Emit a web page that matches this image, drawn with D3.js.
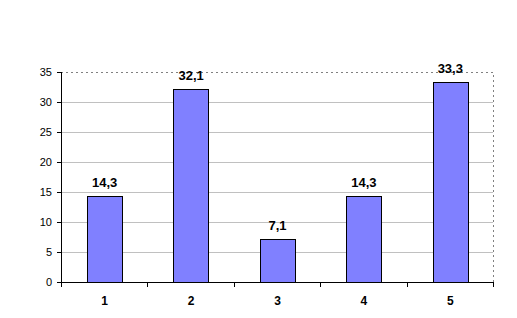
<!DOCTYPE html>
<html><head><meta charset="utf-8">
<script src="https://cdn.jsdelivr.net/npm/d3@7"></script>
<style>body{margin:0;background:#fff}svg{display:block}text{font-family:"Liberation Sans",Arial,sans-serif}</style>
</head><body>
<script>
const categories = ["1","2","3","4","5"];
const values = [14.3, 32.1, 7.1, 14.3, 33.3];
const valueLabels = ["14,3","32,1","7,1","14,3","33,3"];
const yTicks = [0,5,10,15,20,25,30,35];

const W=517,H=318;
const m={left:61,right:24,top:72,bottom:36};
const svg=d3.select("body").append("svg").attr("width",W).attr("height",H);
const x=d3.scaleBand().domain(categories).range([m.left,W-m.right]).paddingInner(0.6).paddingOuter(0.3);
const xb=d3.scaleBand().domain(categories).range([m.left,W-m.right]);
const y=d3.scaleLinear().domain([0,35]).range([H-m.bottom,m.top]);

// gridlines
svg.append("g").selectAll("line").data(yTicks.filter(d=>d>0&&d<35)).join("line")
 .attr("x1",m.left).attr("x2",W-m.right).attr("y1",d=>y(d)+0.5).attr("y2",d=>y(d)+0.5)
 .attr("stroke","#c0c0c0").attr("stroke-width",1);
// plot border top/right dotted
svg.append("path").attr("d",`M${m.left},${y(35)+0.5}H${W-m.right+0.5}V${y(0)}`)
 .attr("fill","none").attr("stroke","#808080").attr("stroke-dasharray","2,3");

// bars
svg.append("g").selectAll("rect").data(values).join("rect")
 .attr("x",(d,i)=>Math.round(x(categories[i]))+0.5).attr("width",Math.round(x.bandwidth()))
 .attr("y",d=>Math.round(y(d))+0.5).attr("height",d=>Math.round(y(0))-Math.round(y(d)))
 .attr("fill","#8080ff").attr("stroke","#000").attr("stroke-width",1);

// value labels
svg.append("g").selectAll("text").data(values).join("text")
 .attr("x",(d,i)=>x(categories[i])+x.bandwidth()/2+0.5).attr("y",d=>y(d)-9)
 .attr("text-anchor","middle").attr("font-size",13).attr("font-weight","bold").attr("fill","#000")
 .text((d,i)=>valueLabels[i]);

// y axis
const ya=svg.append("g").attr("transform",`translate(${m.left},0)`)
 .call(d3.axisLeft(y).tickValues(yTicks).tickSize(4).tickPadding(5));
ya.select(".domain").remove();
ya.append("line").attr("x1",0.5).attr("x2",0.5).attr("y1",y(35)).attr("y2",y(0)+1).attr("stroke","#000");
ya.selectAll(".tick line").attr("stroke","#000");
ya.selectAll(".tick text").attr("font-size",11).attr("font-family","Liberation Sans, Arial, sans-serif").attr("fill","#000");

// x axis
const xa=svg.append("g").attr("transform",`translate(0,${y(0)})`);
xa.append("line").attr("x1",m.left).attr("x2",W-m.right+1).attr("y1",0.5).attr("y2",0.5).attr("stroke","#000");
const bounds=categories.map(c=>xb(c)).concat([xb(categories[4])+xb.bandwidth()]);
xa.selectAll("line.t").data(bounds).join("line").attr("class","t")
 .attr("x1",d=>Math.round(d)+0.5).attr("x2",d=>Math.round(d)+0.5).attr("y1",0).attr("y2",5).attr("stroke","#000");
xa.selectAll("text").data(categories).join("text")
 .attr("x",d=>xb(d)+xb.bandwidth()/2+0.5).attr("y",23).attr("text-anchor","middle")
 .attr("font-size",12).attr("font-weight","bold").attr("fill","#000").text(d=>d);
</script>
</body></html>
